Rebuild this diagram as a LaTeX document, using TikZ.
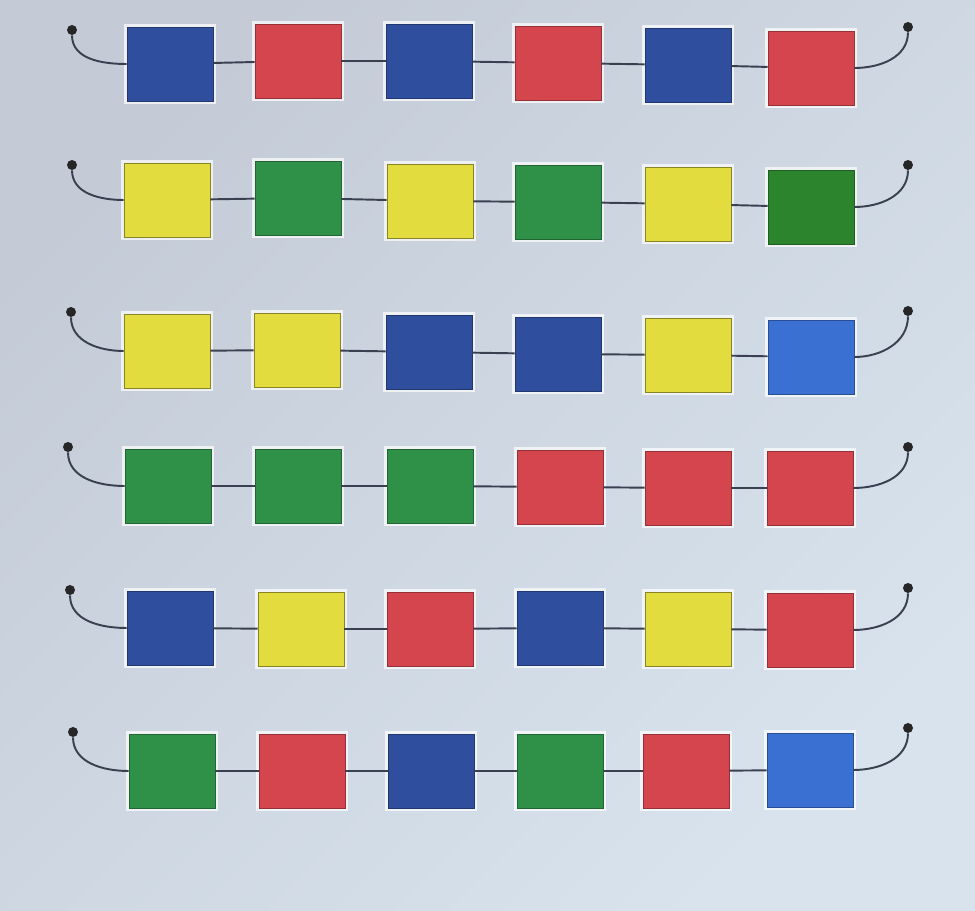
\documentclass[tikz,border=0pt]{standalone}
\usepackage{tikz}

\definecolor{paperA}{HTML}{C4CBD6}
\definecolor{paperB}{HTML}{D8E3EE}
\definecolor{inkline}{HTML}{3A4050}
\definecolor{cblue}{HTML}{2F4F9E}
\definecolor{cred}{HTML}{D5454D}
\definecolor{cyellow}{HTML}{E3DC3E}
\definecolor{cgreen}{HTML}{2F9147}
\definecolor{cdkgreen}{HTML}{2C852D}
\definecolor{cltblue}{HTML}{3A70D2}

\begin{document}
\begin{tikzpicture}[
			x=0.02cm, y=-0.02cm,
			tile/.style={
				rectangle,
				draw,
				line width=0.5pt,
				minimum width=1.72cm,
				minimum height=1.48cm,
				inner sep=0pt,
				preaction={draw=white, line width=3pt, opacity=0.7}
			},
			blu/.style={tile, fill=cblue, draw=cblue!70!black},
			rd/.style={tile, fill=cred, draw=cred!70!black},
			yel/.style={tile, fill=cyellow, draw=cyellow!60!black},
			grn/.style={tile, fill=cgreen, draw=cgreen!70!black},
			dkgrn/.style={tile, fill=cdkgreen, draw=cdkgreen!70!black},
			ltblu/.style={tile, fill=cltblue, draw=cltblue!70!black},
			knob/.style={
				circle,
				fill=black!85,
				inner sep=0pt,
				minimum size=0.2cm
			},
			link/.style={
				draw=inkline,
				line width=1.1pt
			}
			]
			
			\shade [top color=paperA, bottom color=paperB, shading angle=45] (0,0) rectangle (975,911);
			
			\node (a1) [blu] at (170,64) {};
			\node (a2) [rd] at (298,61) {};
			\node (a3) [blu] at (429,61) {};
			\node (a4) [rd] at (558,63) {};
			\node (a5) [blu] at (688,65) {};
			\node (a6) [rd] at (811,68) {};
			\node (al) [knob] at (72,30) {};
			\node (ar) [knob] at (908,27) {};
			
			\node (b1) [yel] at (167,200) {};
			\node (b2) [grn] at (298,198) {};
			\node (b3) [yel] at (430,201) {};
			\node (b4) [grn] at (558,202) {};
			\node (b5) [yel] at (688,204) {};
			\node (b6) [dkgrn] at (811,207) {};
			\node (bl) [knob] at (72,165) {};
			\node (br) [knob] at (908,165) {};
			
			\node (c1) [yel] at (167,351) {};
			\node (c2) [yel] at (297,350) {};
			\node (c3) [blu] at (429,352) {};
			\node (c4) [blu] at (558,354) {};
			\node (c5) [yel] at (688,355) {};
			\node (c6) [ltblu] at (811,357) {};
			\node (cl) [knob] at (71,312) {};
			\node (cr) [knob] at (908,311) {};
			
			\node (d1) [grn] at (168,486) {};
			\node (d2) [grn] at (298,486) {};
			\node (d3) [grn] at (430,486) {};
			\node (d4) [rd] at (560,487) {};
			\node (d5) [rd] at (688,488) {};
			\node (d6) [rd] at (810,488) {};
			\node (dl) [knob] at (68,447) {};
			\node (dr) [knob] at (908,447) {};
			
			\node (e1) [blu] at (170,628) {};
			\node (e2) [yel] at (301,629) {};
			\node (e3) [rd] at (430,629) {};
			\node (e4) [blu] at (560,628) {};
			\node (e5) [yel] at (688,629) {};
			\node (e6) [rd] at (810,630) {};
			\node (el) [knob] at (70,590) {};
			\node (er) [knob] at (908,588) {};
			
			\node (f1) [grn] at (172,771) {};
			\node (f2) [rd] at (302,771) {};
			\node (f3) [blu] at (431,771) {};
			\node (f4) [grn] at (560,771) {};
			\node (f5) [rd] at (686,771) {};
			\node (f6) [ltblu] at (810,770) {};
			\node (fl) [knob] at (73,732) {};
			\node (fr) [knob] at (908,728) {};
			
			\draw [link] (al) to[out=-90, in=180] (a1);
			\draw [link] (a1) -- (a2);
			\draw [link] (a2) -- (a3);
			\draw [link] (a3) -- (a4);
			\draw [link] (a4) -- (a5);
			\draw [link] (a5) -- (a6);
			\draw [link] (a6) to[out=0, in=-90] (ar);
			
			\draw [link] (bl) to[out=-90, in=180] (b1);
			\draw [link] (b1) -- (b2);
			\draw [link] (b2) -- (b3);
			\draw [link] (b3) -- (b4);
			\draw [link] (b4) -- (b5);
			\draw [link] (b5) -- (b6);
			\draw [link] (b6) to[out=0, in=-90] (br);
			
			\draw [link] (cl) to[out=-90, in=180] (c1);
			\draw [link] (c1) -- (c2);
			\draw [link] (c2) -- (c3);
			\draw [link] (c3) -- (c4);
			\draw [link] (c4) -- (c5);
			\draw [link] (c5) -- (c6);
			\draw [link] (c6) to[out=0, in=-90] (cr);
			
			\draw [link] (dl) to[out=-90, in=180] (d1);
			\draw [link] (d1) -- (d2);
			\draw [link] (d2) -- (d3);
			\draw [link] (d3) -- (d4);
			\draw [link] (d4) -- (d5);
			\draw [link] (d5) -- (d6);
			\draw [link] (d6) to[out=0, in=-90] (dr);
			
			\draw [link] (el) to[out=-90, in=180] (e1);
			\draw [link] (e1) -- (e2);
			\draw [link] (e2) -- (e3);
			\draw [link] (e3) -- (e4);
			\draw [link] (e4) -- (e5);
			\draw [link] (e5) -- (e6);
			\draw [link] (e6) to[out=0, in=-90] (er);
			
			\draw [link] (fl) to[out=-90, in=180] (f1);
			\draw [link] (f1) -- (f2);
			\draw [link] (f2) -- (f3);
			\draw [link] (f3) -- (f4);
			\draw [link] (f4) -- (f5);
			\draw [link] (f5) -- (f6);
			\draw [link] (f6) to[out=0, in=-90] (fr);
			
		\end{tikzpicture}
\end{document}
